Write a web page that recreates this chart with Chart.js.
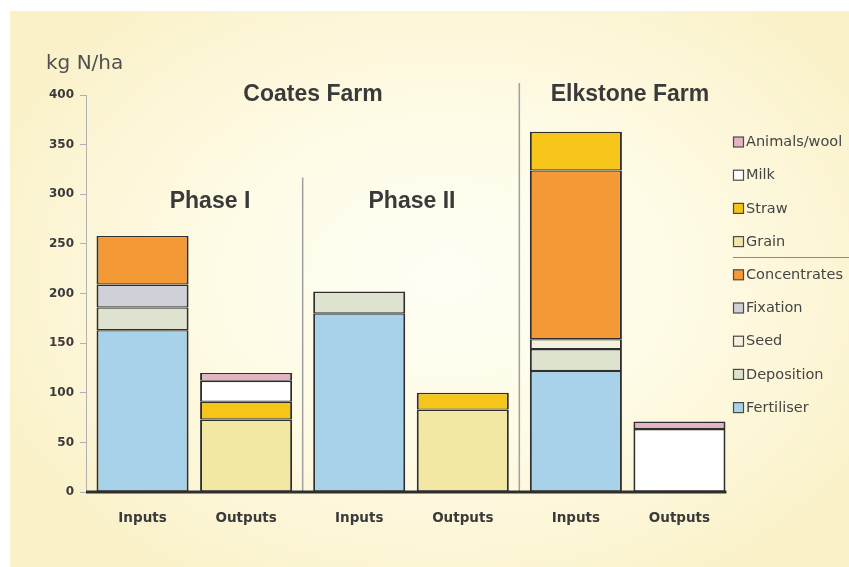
<!DOCTYPE html>
<html>
<head>
<meta charset="utf-8">
<script src="https://cdn.jsdelivr.net/npm/chart.js@4/dist/chart.umd.min.js"></script>
<style>
  html, body { margin: 0; padding: 0; background: #ffffff; }
  #wrap { position: relative; width: 849px; height: 567px; background: #ffffff; overflow: hidden; }
  #panel { position: absolute; left: 10px; top: 11px; right: 0; bottom: 0;
    background: radial-gradient(ellipse 60% 65% at 52% 48%, #fffef4 0%, #fefbe6 45%, #fcf5d4 80%, #faf1c8 100%); }
  #c { position: absolute; left: 0; top: 0; }
</style>
</head>
<body>
<div id="wrap">
  <div id="panel"></div>
  <canvas id="c" width="849" height="567"></canvas>
</div>
<script>
// ---- data (kg N/ha) ----
const groups = ['Coates Farm Phase I', 'Coates Farm Phase II', 'Elkstone Farm'];
const barLabels = ['Inputs', 'Outputs'];
const yMin = 0, yMax = 400, yStep = 50;
const yUnit = 'kg N/ha';
const farmTitles = ['Coates Farm', 'Elkstone Farm'];
const phaseTitles = ['Phase I', 'Phase II'];

// Inputs (bottom to top)
const fertiliser   = [163, 180, 122];
const deposition   = [23, 22, 22];
const seed         = [null, null, 10];
const fixation     = [23, null, null];
const concentrates = [49, null, 170];
const strawIn      = [null, null, 39];
// Outputs (bottom to top)
const grain        = [73, 83, null];
const strawOut     = [18, 17, null];
const milk         = [21, null, 63.5];
const animalsWool  = [8, null, 7.5];

const legendOrder = ['Animals/wool', 'Milk', 'Straw', 'Grain', 'Concentrates', 'Fixation', 'Seed', 'Deposition', 'Fertiliser'];

// ---- styles ----
const colors = {
  'Fertiliser': '#a8d2ea',
  'Deposition': '#dde3cf',
  'Seed': '#f4f2dc',
  'Fixation': '#cfd0d8',
  'Concentrates': '#f39a36',
  'Straw': '#f5c51a',
  'Grain': '#f3e8a3',
  'Milk': '#ffffff',
  'Animals/wool': '#e4b3c6'
};

function ds(name, data, stack) {
  return {
    label: name, data: data, stack: stack,
    backgroundColor: colors[name],
    borderColor: '#2f2f2f',
    borderWidth: { left: 2, right: 2, top: 1.4, bottom: 1.2 },
    borderSkipped: false,
    categoryPercentage: 0.956,
    barPercentage: 0.889
  };
}

const datasets = [
  ds('Fertiliser', fertiliser, 'in'),
  ds('Deposition', deposition, 'in'),
  ds('Seed', seed, 'in'),
  ds('Fixation', fixation, 'in'),
  ds('Concentrates', concentrates, 'in'),
  ds('Straw', strawIn, 'in'),
  ds('Grain', grain, 'out'),
  ds('Straw', strawOut, 'out'),
  ds('Milk', milk, 'out'),
  ds('Animals/wool', animalsWool, 'out')
];

const decor = {
  id: 'decor',
  beforeDatasetsDraw(chart) {
    const { ctx, scales: { x, y }, chartArea } = chart;
    ctx.save();
    ctx.strokeStyle = '#a0a0a0';
    ctx.lineWidth = 1.5;
    // group separators
    const b1 = (x.getPixelForValue(0) + x.getPixelForValue(1)) / 2;
    const b2 = (x.getPixelForValue(1) + x.getPixelForValue(2)) / 2;
    ctx.beginPath();
    ctx.moveTo(b1, y.getPixelForValue(317)); ctx.lineTo(b1, chartArea.bottom);
    ctx.moveTo(b2, y.getPixelForValue(412)); ctx.lineTo(b2, chartArea.bottom);
    ctx.stroke();
    ctx.restore();
  },
  afterDatasetsDraw(chart) {
    const { ctx, scales: { x, y }, chartArea } = chart;
    ctx.save();
    // baseline
    let rightEdge = chartArea.right;
    const lastMeta = chart.getDatasetMeta(datasets.length - 1);
    const el = lastMeta.data[groups.length - 1];
    if (el) rightEdge = el.x + el.width / 2 + 1;
    ctx.strokeStyle = '#2e2e2e';
    ctx.lineWidth = 3;
    ctx.beginPath();
    ctx.moveTo(chartArea.left, y.getPixelForValue(0));
    ctx.lineTo(rightEdge, y.getPixelForValue(0));
    ctx.stroke();

    // bar labels under each bar
    ctx.fillStyle = '#3a3a3a';
    ctx.font = 'bold 13.5px "DejaVu Sans"';
    ctx.textAlign = 'center';
    ctx.textBaseline = 'middle';
    const inMeta = chart.getDatasetMeta(0);
    const outMeta = chart.getDatasetMeta(6);
    for (let g = 0; g < groups.length; g++) {
      ctx.fillText(barLabels[0], inMeta.data[g].x, 518);
      ctx.fillText(barLabels[1], outMeta.data[g].x, 518);
    }

    // titles
    ctx.fillStyle = '#3a3a3a';
    ctx.font = 'bold 23px "Liberation Sans"';
    ctx.fillText(farmTitles[0], 313, 95);
    ctx.fillText(farmTitles[1], 630, 95);
    ctx.fillText(phaseTitles[0], 210, 202);
    ctx.fillText(phaseTitles[1], 412, 202);

    // unit label
    ctx.fillStyle = '#505050';
    ctx.font = '20px "DejaVu Sans"';
    ctx.textAlign = 'left';
    ctx.textBaseline = 'alphabetic';
    ctx.fillText(yUnit, 46, 69);

    // legend
    ctx.font = '14.5px "DejaVu Sans"';
    ctx.textBaseline = 'middle';
    legendOrder.forEach((name, i) => {
      const cy = 142 + 33.2 * i;
      ctx.fillStyle = colors[name];
      ctx.fillRect(733.5, cy - 5, 10, 10);
      ctx.strokeStyle = '#4a4a4a';
      ctx.lineWidth = 1.2;
      ctx.strokeRect(733.5, cy - 5, 10, 10);
      ctx.fillStyle = '#444444';
      ctx.fillText(name, 746, cy + 0.5);
    });
    // separator between output and input legend entries
    ctx.strokeStyle = '#8a8a8a';
    ctx.lineWidth = 1;
    ctx.beginPath();
    ctx.moveTo(733, 257.5);
    ctx.lineTo(849, 257.5);
    ctx.stroke();
    ctx.restore();
  }
};

new Chart(document.getElementById('c'), {
  type: 'bar',
  data: { labels: groups, datasets: datasets },
  options: {
    responsive: false,
    animation: false,
    devicePixelRatio: 1,
    layout: { padding: { left: 0, right: 113, top: 95, bottom: 75 } },
    plugins: { legend: { display: false }, tooltip: { enabled: false } },
    scales: {
      x: {
        stacked: true,
        display: false
      },
      y: {
        stacked: true,
        min: yMin, max: yMax,
        afterFit(scale) { scale.width = 86; },
        ticks: {
          stepSize: yStep,
          padding: 6,
          color: '#3a3a3a',
          font: { family: 'DejaVu Sans', size: 12, weight: 'bold' }
        },
        grid: { drawOnChartArea: false, drawTicks: true, tickLength: 6, color: '#b0b0b0' },
        border: { display: true, color: '#b0b0b0', width: 1 }
      }
    }
  },
  plugins: [decor]
});
</script>
</body>
</html>
